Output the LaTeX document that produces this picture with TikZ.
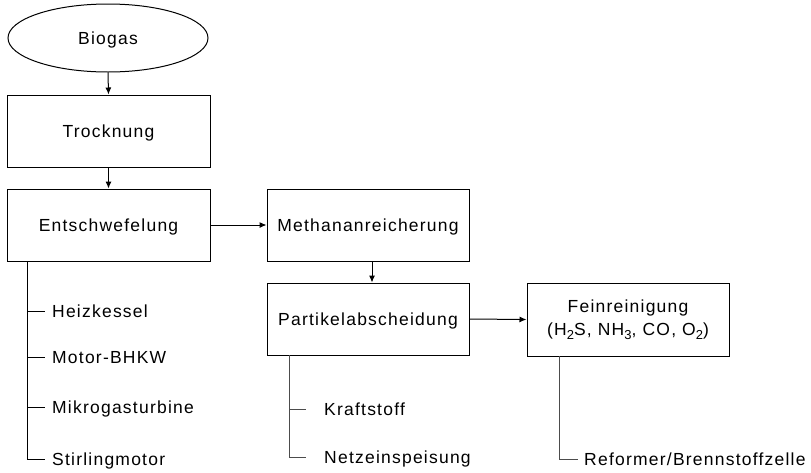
\documentclass[tikz,border=0pt]{standalone}
\usepackage{fontspec}
\setmainfont{Liberation Sans}[LetterSpace=7]
\usetikzlibrary{shapes.geometric,arrows.meta}
\newcommand{\mysub}[1]{\raisebox{-4pt}{\fontsize{13}{13}\selectfont #1}}
\begin{document}
\begin{tikzpicture}[x=1pt,y=-1pt,
  every node/.style={font=\fontsize{17.5}{23}\selectfont},
  box/.style={draw,line width=1pt,minimum width=203pt,minimum height=72pt,inner sep=0pt,text height=13pt,text depth=0pt,align=center},
  lbl/.style={anchor=west,inner sep=0pt,text height=13pt,text depth=0pt},
  arr/.style={line width=1pt,-{Latex[length=7pt,width=6pt]}},
  lst/.style={line width=1pt},
  lstg/.style={line width=1pt,draw=black!70}]
\useasboundingbox (0,0) rectangle (811,472);
\node[draw,ellipse,line width=1pt,minimum width=200pt,minimum height=68pt,inner sep=0pt,text height=13pt,text depth=0pt] (bio) at (108,38) {Biogas};
\node[box] (tro) at (108.5,131) {Trocknung};
\node[box] (ent) at (108.5,225) {Entschwefelung};
\node[box,minimum width=202pt] (met) at (368,225) {Methananreicherung};
\node[box,minimum width=202pt] (par) at (368,319) {Partikelabscheidung};
\node[box,minimum width=202pt,minimum height=73pt,text height=,text depth=] (fei) at (628,319.5) {Feinreinigung\\(H\mysub{2}S, NH\mysub{3}, CO, O\mysub{2})};

\draw[arr] (bio.south) -- (tro.north);
\draw[arr] (tro.south) -- (ent.north);
\draw[arr] (ent.east) -- (met.west);
\draw[arr] ([xshift=4pt]met.south) -- ([xshift=4pt]par.north);
\draw[arr] (par.east) -- (fei.west);

% Entschwefelung list
\coordinate (e0) at (27,261);
\node[lbl] (h1) at (52,311) {Heizkessel};
\node[lbl] (h2) at (52,357) {Motor-BHKW};
\node[lbl] (h3) at (52,407) {Mikrogasturbine};
\node[lbl] (h4) at (52,459) {Stirlingmotor};
\draw[lst] (e0) |- ([xshift=-7pt]h4.west);
\draw[lst] (e0 |- h1.west) -- ([xshift=-7pt]h1.west);
\draw[lst] (e0 |- h2.west) -- ([xshift=-7pt]h2.west);
\draw[lst] (e0 |- h3.west) -- ([xshift=-7pt]h3.west);

% Partikel list
\coordinate (p0) at (289,355);
\node[lbl] (k1) at (324,409) {Kraftstoff};
\node[lbl] (k2) at (324,457) {Netzeinspeisung};
\draw[lstg] (p0) |- ([xshift=-18pt]k2.west);
\draw[lstg] (p0 |- k1.west) -- ([xshift=-18pt]k1.west);

% Fein list
\coordinate (f0) at (559,356);
\node[lbl] (r1) at (584,459) {Reformer/Brennstoffzelle};
\draw[lstg] (f0) |- ([xshift=-6pt]r1.west);
\end{tikzpicture}
\end{document}
